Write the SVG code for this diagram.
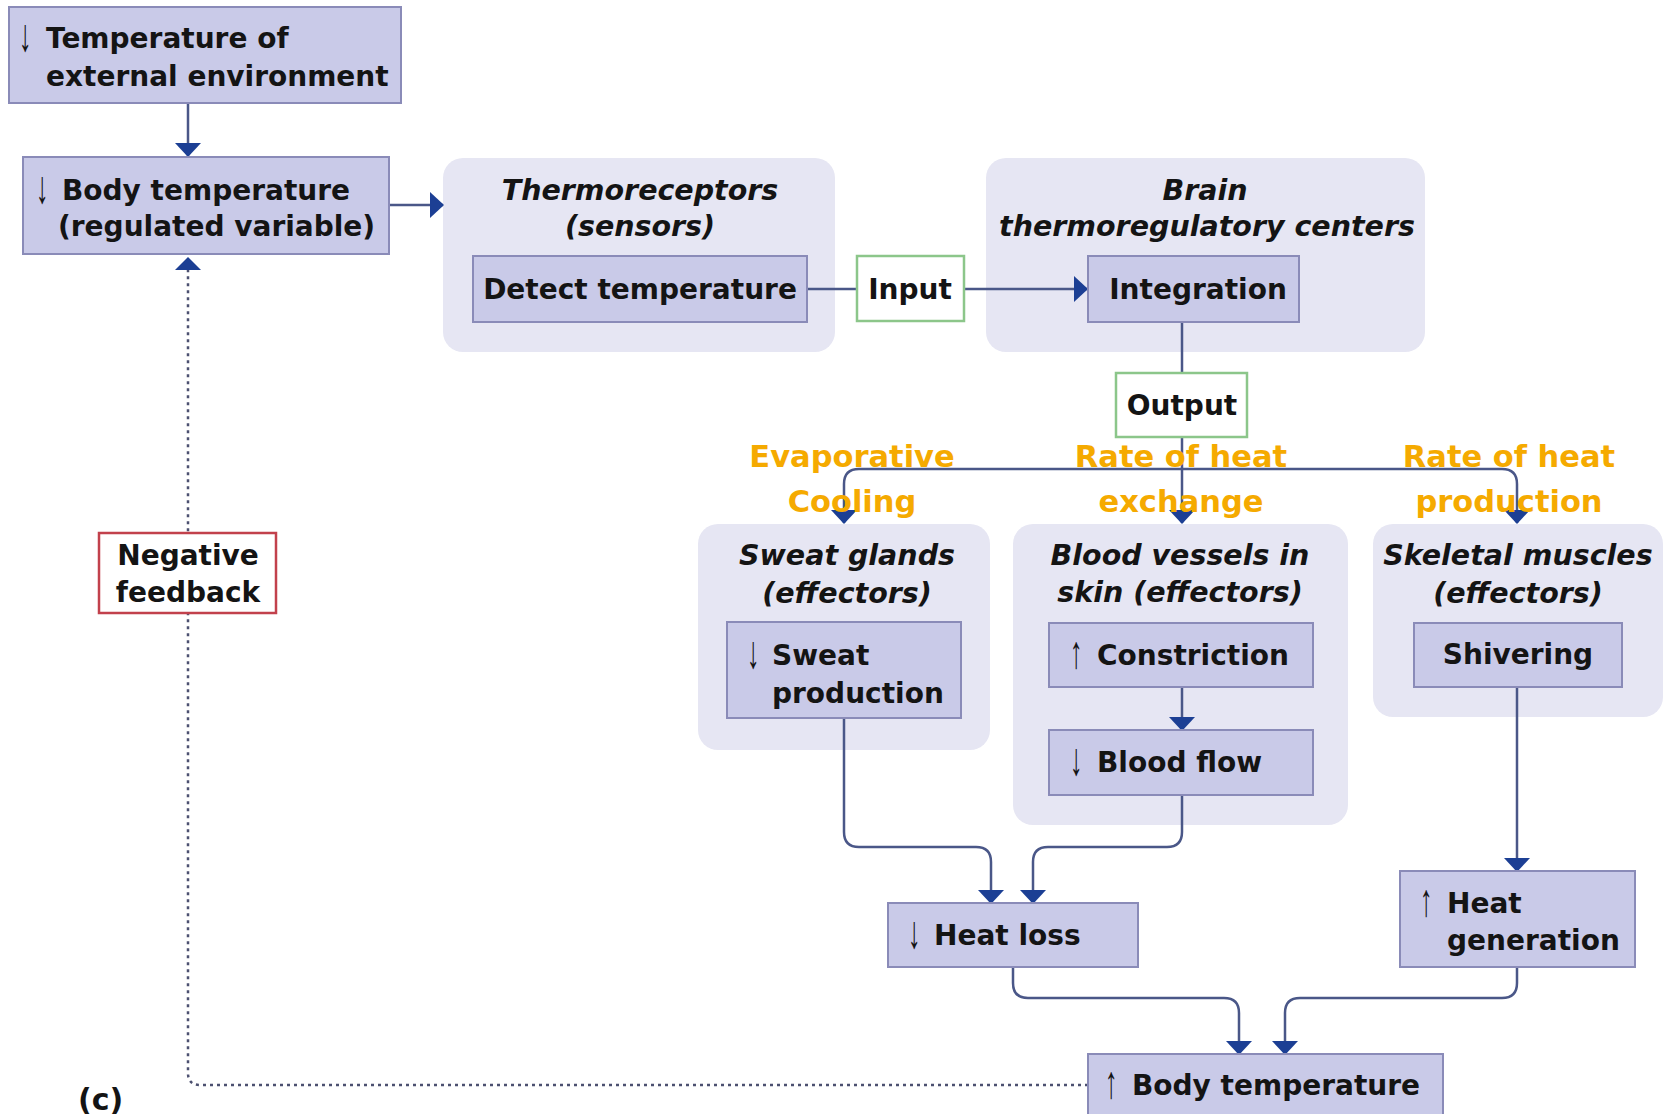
<svg xmlns="http://www.w3.org/2000/svg" width="1669" height="1114" viewBox="0 0 1669 1114">
<style>
.bg{fill:#ffffff}
.grp{fill:#E6E6F3}
.box{fill:#C9CAE8;stroke:#8A8BB8;stroke-width:2}
.gbox{fill:#ffffff;stroke:#8CC68A;stroke-width:2.5}
.rbox{fill:#ffffff;stroke:#C2414C;stroke-width:2.5}
.t{font-family:"DejaVu Sans",Verdana,sans-serif;font-weight:bold;font-size:28px;fill:#141414}
.ti{font-family:"DejaVu Sans",Verdana,sans-serif;font-weight:bold;font-style:italic;font-size:28.5px;fill:#141414}
.c{text-anchor:middle}
.ar{font-family:"Liberation Sans",Arial,sans-serif;font-weight:bold;font-size:46px;text-anchor:middle;fill:#141414}
.or{font-family:"DejaVu Sans",Verdana,sans-serif;font-weight:bold;font-size:30.5px;fill:#F5AA00;text-anchor:middle}
.ln{fill:none;stroke:#4A5788;stroke-width:2.5}
.la{fill:none;stroke:#4A5788;stroke-width:2.5;marker-end:url(#ah)}
.dot{fill:none;stroke:#4C5070;stroke-width:2.5;stroke-dasharray:3 4}
</style>
<defs>
<marker id="ah" viewBox="0 0 14 26" refX="13" refY="13" markerWidth="14" markerHeight="26" markerUnits="userSpaceOnUse" orient="auto">
<path d="M0,0 L14,13 L0,26 z" fill="#1C3F94"/>
</marker>
</defs>
<rect class="bg" x="0" y="0" width="1669" height="1114"/>

<g id="groups">
<g id="thermoreceptors"><rect class="grp" x="443" y="158" width="392" height="194" rx="20"/>
<text class="ti c" x="640" y="200">Thermoreceptors</text><text class="ti c" x="640" y="236">(sensors)</text></g>
<g id="brain"><rect class="grp" x="986" y="158" width="439" height="194" rx="20"/>
<text class="ti c" x="1205" y="200">Brain</text><text class="ti c" x="1207" y="236">thermoregulatory centers</text></g>
<g id="sweat-glands"><rect class="grp" x="698" y="524" width="292" height="226" rx="20"/>
<text class="ti c" x="847" y="565">Sweat glands</text><text class="ti c" x="847" y="603">(effectors)</text></g>
<g id="blood-vessels"><rect class="grp" x="1013" y="524" width="335" height="301" rx="20"/>
<text class="ti c" x="1180" y="565">Blood vessels in</text><text class="ti c" x="1180" y="602">skin (effectors)</text></g>
<g id="skeletal-muscles"><rect class="grp" x="1373" y="524" width="290" height="193" rx="20"/>
<text class="ti c" x="1518" y="565">Skeletal muscles</text><text class="ti c" x="1518" y="603">(effectors)</text></g>
</g>

<g id="connectors">
<path class="la" d="M188,103 V156"/>
<path class="la" d="M389,205 H443"/>
<path class="ln" d="M807,289 H857"/>
<path class="la" d="M964,289 H1087"/>
<path class="ln" d="M1182,322 V373"/>
<path class="la" d="M1182,437 V523"/>
<path class="la" d="M1182,469 H859 Q844,469 844,484 V523"/>
<path class="la" d="M1182,469 H1502 Q1517,469 1517,484 V523"/>
<path class="la" d="M1182,687 V730"/>
<path class="la" d="M844,718 V832 Q844,847 859,847 H976 Q991,847 991,862 V903"/>
<path class="la" d="M1182,795 V832 Q1182,847 1167,847 H1048 Q1033,847 1033,862 V903"/>
<path class="la" d="M1517,687 V871"/>
<path class="la" d="M1013,967 V983 Q1013,998 1028,998 H1224 Q1239,998 1239,1013 V1054"/>
<path class="la" d="M1517,967 V983 Q1517,998 1502,998 H1300 Q1285,998 1285,1013 V1054"/>
<path class="dot" d="M1088,1085 H200 Q188,1085 188,1073 V270"/>
<path d="M175,270 L188,257 L201,270 z" fill="#1C3F94"/>
</g>

<g id="ext-temp"><rect class="box" x="9" y="7" width="392" height="96"/>
<text class="ar" transform="translate(25,51) scale(0.55,1)">↓</text>
<text class="t" x="46" y="48">Temperature of</text><text class="t" x="46" y="86">external environment</text></g>

<g id="body-temp-reg"><rect class="box" x="23" y="157" width="366" height="97"/>
<text class="ar" transform="translate(42,203) scale(0.55,1)">↓</text>
<text class="t" x="62" y="200">Body temperature</text><text class="t" x="58" y="236">(regulated variable)</text></g>

<g id="detect"><rect class="box" x="473" y="256" width="334" height="66"/>
<text class="t c" x="640" y="299">Detect temperature</text></g>

<g id="input"><rect class="gbox" x="857" y="256" width="107" height="65"/>
<text class="t c" x="910" y="299">Input</text></g>

<g id="integration"><rect class="box" x="1088" y="256" width="211" height="66"/>
<text class="t c" x="1198" y="299">Integration</text></g>

<g id="output"><rect class="gbox" x="1116" y="373" width="131" height="64"/>
<text class="t c" x="1182" y="415">Output</text></g>

<g id="sweat-production"><rect class="box" x="727" y="622" width="234" height="96"/>
<text class="ar" transform="translate(753,668) scale(0.55,1)">↓</text>
<text class="t" x="772" y="665">Sweat</text><text class="t" x="772" y="703">production</text></g>

<g id="constriction"><rect class="box" x="1049" y="623" width="264" height="64"/>
<text class="ar" transform="translate(1076,668) scale(0.55,1)">↑</text>
<text class="t" x="1097" y="665">Constriction</text></g>

<g id="blood-flow"><rect class="box" x="1049" y="730" width="264" height="65"/>
<text class="ar" transform="translate(1076,775) scale(0.55,1)">↓</text>
<text class="t" x="1097" y="772">Blood flow</text></g>

<g id="shivering"><rect class="box" x="1414" y="623" width="208" height="64"/>
<text class="t c" x="1518" y="664">Shivering</text></g>

<g id="heat-loss"><rect class="box" x="888" y="903" width="250" height="64"/>
<text class="ar" transform="translate(914,948) scale(0.55,1)">↓</text>
<text class="t" x="934" y="945">Heat loss</text></g>

<g id="heat-generation"><rect class="box" x="1400" y="871" width="235" height="96"/>
<text class="ar" transform="translate(1426,916) scale(0.55,1)">↑</text>
<text class="t" x="1447" y="913">Heat</text><text class="t" x="1447" y="950">generation</text></g>

<g id="body-temp-up"><rect class="box" x="1088" y="1054" width="355" height="70"/>
<text class="ar" transform="translate(1111,1098) scale(0.55,1)">↑</text>
<text class="t" x="1132" y="1095">Body temperature</text></g>

<g id="negative-feedback"><rect class="rbox" x="99" y="533" width="177" height="80"/>
<text class="t c" x="188" y="565">Negative</text><text class="t c" x="188" y="602">feedback</text></g>

<g id="labels">
<text class="or" x="852" y="467">Evaporative</text><text class="or" x="852" y="512">Cooling</text>
<text class="or" x="1181" y="467">Rate of heat</text><text class="or" x="1181" y="512">exchange</text>
<text class="or" x="1509" y="467">Rate of heat</text><text class="or" x="1509" y="512">production</text>
</g>

<text class="t" x="78" y="1110" style="font-size:30px">(c)</text>
</svg>
